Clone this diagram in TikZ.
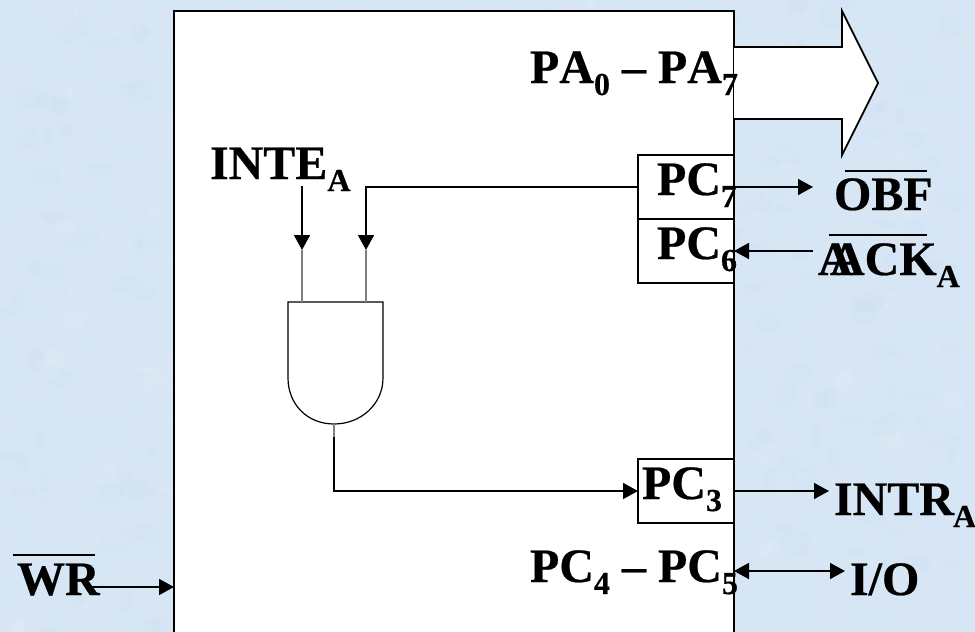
\documentclass[tikz,border=0pt]{standalone}
\usepackage{fontspec}
\setmainfont[Kerning=Off,Ligatures=NoCommon,BoldFeatures={FakeBold=0.5}]{Liberation Serif}
\usetikzlibrary{arrows.meta}
\definecolor{bgblue}{HTML}{D6E6F5}
\definecolor{bglight}{HTML}{EDF3FA}
\definecolor{bgdark}{HTML}{C3DAF0}
\definecolor{pinkish}{HTML}{E6E4F2}
\newcommand{\lowsub}[1]{\raisebox{-12pt}{\fontsize{32}{32}\selectfont #1}}
\tikzset{
  x=1pt,y=-1pt,
  lbl/.style={anchor=base west,inner sep=0pt,outer sep=0pt,font=\fontsize{48}{48}\selectfont\bfseries,text=black},
  wire/.style={draw=black,line width=1.7pt},
  awire/.style={wire,-{Triangle[length=15pt,width=16pt]}},
  bwire/.style={wire,{Triangle[length=15pt,width=16pt]}-{Triangle[length=15pt,width=16pt]}},
  thin wire/.style={draw=black!50,line width=1.4pt},
  portbox/.style={draw=black,line width=1.8pt,fill=white,minimum width=96pt,minimum height=64pt,inner sep=0pt,outer sep=0pt},
  bar/.style={draw=black,line width=1.7pt}
}
\begin{document}
\begin{tikzpicture}
\clip (0,0) rectangle (975,632);
\fill[bgblue] (0,0) rectangle (975,632);
% mottled background
\pgfmathsetseed{8085}
\foreach \i in {1,...,900}{
  \pgfmathsetmacro{\px}{rnd*975}
  \pgfmathsetmacro{\py}{rnd*632}
  \pgfmathsetmacro{\ra}{4+rnd*14}
  \pgfmathsetmacro{\rb}{3+rnd*10}
  \pgfmathtruncatemacro{\pick}{int(rnd*3)}
  \ifcase\pick\relax
    \fill[bglight,opacity=.15] (\px,\py) ellipse [x radius=\ra,y radius=\rb];
  \or
    \fill[bgdark,opacity=.12] (\px,\py) ellipse [x radius=\ra,y radius=\rb];
  \or
    \fill[pinkish,opacity=.12] (\px,\py) ellipse [x radius=\ra,y radius=\rb];
  \fi
}
% chip body
\node[draw=black,line width=2.2pt,fill=white,minimum width=560pt,minimum height=660pt,inner sep=0pt,outer sep=0pt,anchor=north west] (main) at (174,11) {};
% output bus arrow
\draw[line width=1.8pt,fill=white,line join=miter] (734,47) -- (842,47) -- (842,11) -- (878,83) -- (842,155) -- (842,119) -- (734,119);
% port boxes
\node[portbox,anchor=north west] (pc7) at (638,155) {};
\node[portbox,anchor=north west] (pc6) at (638,219) {};
\node[portbox,anchor=north west] (pc3) at (638,459) {};
% AND gate
\coordinate (gA) at (302,302);
\coordinate (gB) at (366,302);
\coordinate (gO) at (334,424);
\draw[draw=black,line width=1.2pt,fill=white] (288,302) -- (383,302) -- (383,378)
  .. controls (383,404) and (361,424) .. (gO) .. controls (307,424) and (288,404) .. (288,378) -- cycle;
% pins
\coordinate (inteTop) at (302,186);
\coordinate (inA) at (302,250);
\coordinate (inB) at (366,250);
\coordinate (outMid) at (334,437);
\coordinate (obfEnd) at (813,187);
\coordinate (ackEnd) at (813,251);
\coordinate (intrEnd) at (829,491);
\coordinate (ioEnd) at (845,571);
\coordinate (ioStart) at (734,571);
\coordinate (wrStart) at (85,587);
% wires
\draw[thin wire] (inA) -- (gA);
\draw[thin wire] (inB) -- (gB);
\draw[thin wire] (gO) -- (outMid);
\draw[awire] (inteTop) -- (inA);
\draw[awire] (pc7.west) -| (inB);
\draw[awire] (outMid) |- (pc3.west);
% labels
\node[lbl] (pa) at (530,83) {PA\lowsub{0} – PA\lowsub{7}};
\node[lbl] (inte) at (210,179) {INTE\lowsub{A}};
\node[lbl] (tpc7) at (657,195) {PC\lowsub{7}};
\node[lbl] (tpc6) at (657,259) {PC\lowsub{6}};
\node[lbl] (tpc3) at (642,499) {PC\lowsub{3}};
\node[lbl] (tpc45) at (530,582) {PC\lowsub{4} – PC\lowsub{5}};
\node[lbl] (obf) at (834,210) {OBF};
\node[lbl] (acka) at (818,275) {A};
\node[lbl] (ackb) at (830,275) {ACK\lowsub{A}};
\node[lbl] (intr) at (834,515) {INTR\lowsub{\kern-1pt A}};
\node[lbl] (io) at (850,595) {I/O};
\node[lbl] (wr) at (17,595) {WR};
% overbars
\draw[bar] (845,171) -- (927,171);
\draw[bar] (829,235) -- (927,235);
\draw[bar] (13,555) -- (95,555);
% outer wires
\draw[awire] (pc7.east) -- (obfEnd);
\draw[awire] (ackEnd) -- (pc6.east);
\draw[awire] (pc3.east) -- (intrEnd);
\draw[bwire] (ioStart) -- (ioEnd);
\draw[awire] (wrStart) -- (wrStart -| main.west);
\end{tikzpicture}
\end{document}
